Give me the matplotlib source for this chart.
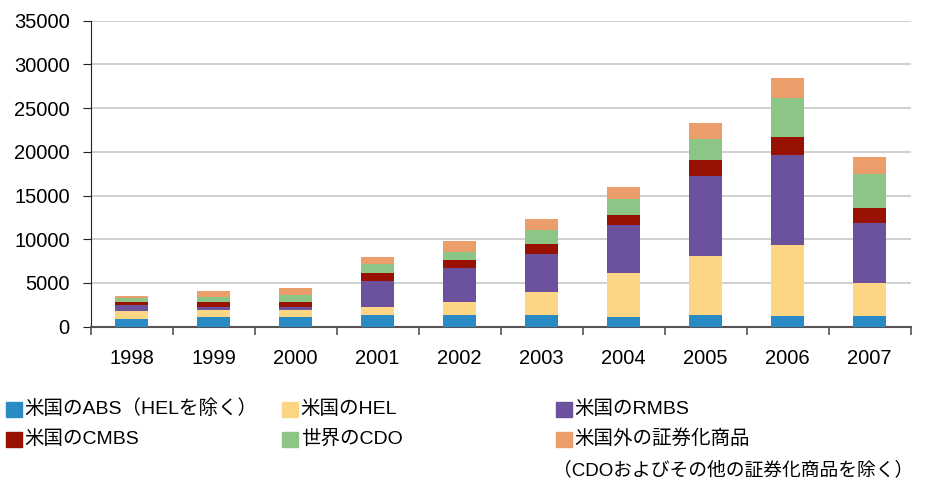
import numpy as np
import matplotlib.pyplot as plt
from matplotlib.patches import Rectangle

plt.rcParams['font.family'] = ['Liberation Sans', 'Noto Sans CJK JP', 'DejaVu Sans']

# Dane
years = ['1998', '1999', '2000', '2001', '2002', '2003', '2004', '2005', '2006', '2007']
abs_ex_hel = [870, 1100, 1100, 1330, 1330, 1330, 1100, 1330, 1210, 1210]
hel = [910, 790, 790, 900, 1470, 2610, 5000, 6700, 8180, 3750]
rmbs = [680, 340, 340, 2960, 3870, 4430, 5570, 9200, 10230, 6930]
cmbs = [340, 570, 570, 910, 910, 1140, 1130, 1820, 2050, 1710]
cdo = [460, 570, 800, 1060, 980, 1590, 1860, 2430, 4430, 3820]
non_us = [220, 680, 790, 760, 1290, 1250, 1320, 1780, 2380, 1970]

series = [abs_ex_hel, hel, rmbs, cmbs, cdo, non_us]
labels = ['米国のABS（HELを除く）', '米国のHEL', '米国のRMBS',
          '米国のCMBS', '世界のCDO', '米国外の証券化商品']
colors = ['#2A8AC4', '#FDD685', '#6C519C', '#991102', '#8BC686', '#EC9E6A']

fig = plt.figure(figsize=(9.25, 4.83), dpi=100)
ax = fig.add_axes([0.098, 0.3236, 0.8865, 0.6336])

x = np.arange(len(years))
bottom = np.zeros(len(years))
for vals, col in zip(series, colors):
    ax.bar(x, vals, width=0.4, bottom=bottom, color=col, zorder=3)
    bottom += np.array(vals)

ax.set_xlim(-0.5, len(years) - 0.5)
ax.set_ylim(0, 35000)
ax.set_yticks(np.arange(0, 35001, 5000))
ax.yaxis.grid(True, color='#c8c8c8', linewidth=1.2, zorder=0)
ax.set_axisbelow(True)

# osie
for s in ['top', 'right']:
    ax.spines[s].set_visible(False)
ax.spines['left'].set_color('#222222')
ax.spines['bottom'].set_color('#555555')
ax.spines['bottom'].set_linewidth(1.5)

ax.set_xticks(x)
ax.set_xticklabels(years)
ax.tick_params(axis='x', length=0, pad=16, labelsize=14.5)
ax.set_xticks(np.arange(-0.5, len(years)), minor=True)
ax.tick_params(axis='x', which='minor', length=6, width=1.2, color='#555555')
ax.tick_params(axis='y', length=6, direction='out', pad=9, labelsize=14.5,
               color='#222222')

# legenda (ręcznie)
pos = [(6, 409), (282, 409), (556, 409),
       (6, 439), (282, 439), (556, 439)]
W, H = 16 / 925, 15 / 483
for (px, py), col, lab in zip(pos, colors, labels):
    lx, ly = px / 925, 1 - py / 483
    fig.patches.append(Rectangle((lx, ly - H / 2), W, H, color=col,
                                 transform=fig.transFigure, figure=fig))
    fig.text(lx + W + 0.003, ly, lab, fontsize=14, va='center', ha='left')
fig.text(553 / 925, 1 - 470 / 483, '（CDOおよびその他の証券化商品を除く）',
         fontsize=13.5, va='center', ha='left')

fig.savefig('out.png', dpi=100)
